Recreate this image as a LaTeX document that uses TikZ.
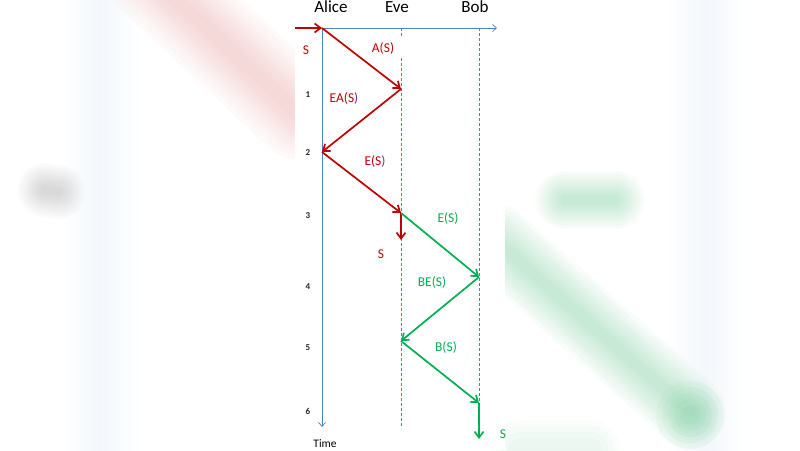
\documentclass[tikz,border=0pt]{standalone}
\usepackage{fontspec}
\setmainfont{Carlito}
\usetikzlibrary{arrows.meta}
\definecolor{myred}{RGB}{192,0,0}
\definecolor{mygreen}{RGB}{0,176,80}
\definecolor{mypurple}{RGB}{112,48,160}
\definecolor{axisblue}{RGB}{79,129,189}
\definecolor{blurpink}{RGB}{235,160,160}
\definecolor{blurgreen}{RGB}{110,205,150}
\definecolor{blurgray}{RGB}{160,160,160}
\definecolor{blurblue}{RGB}{243,247,251}
\begin{document}
\begin{tikzpicture}[x=1pt,y=-1pt,
  msgred/.style={draw=myred, line width=1.7pt, -{Straight Barb[length=6pt,width=9pt]}},
  msggreen/.style={draw=mygreen, line width=1.7pt, -{Straight Barb[length=6pt,width=9pt]}},
  axis/.style={draw=axisblue, line width=0.7pt, -{Straight Barb[length=4pt,width=7pt]}},
  lifeline/.style={draw=axisblue, line width=0.8pt, dash pattern=on 3pt off 2pt},
  head/.style={font=\fontsize{17}{19}\selectfont, text=black, inner sep=0pt},
  lbl/.style={font=\fontsize{13.5}{15}\selectfont, inner sep=0pt},
  tick/.style={font=\bfseries\fontsize{9}{11}\selectfont, text=black!85, inner sep=0pt},
  blur/.style={line cap=round, opacity=0.045}]
\useasboundingbox (0,0) rectangle (800,450);
% blurred background
\fill[white] (0,0) rectangle (800,450);
\shade[left color=white, right color=blurblue] (60,0) rectangle (100,450);
\shade[left color=blurblue, right color=white] (100,0) rectangle (140,450);
\shade[left color=white, right color=blurblue] (665,0) rectangle (705,450);
\shade[left color=blurblue, right color=white] (705,0) rectangle (745,450);
\foreach \w in {90,80,70,62,54,46,38,30,22,14} {
  \draw[blur, blurpink] [line width=\w pt] (150,-25) -- (300,115);
  \draw[blur, blurgreen] [line width=0.8*\w pt] (495,240) -- (690,412);
  \draw[blur, blurgreen] [line width=0.65*\w pt] (565,200) -- (615,200);
  \draw[blur, blurgray] [line width=0.6*\w pt] (45,190) -- (58,192);
}
\foreach \w in {60,48,36,24} {
  \draw[line cap=round, opacity=0.03, blurgreen] [line width=\w pt] (520,450) -- (590,450);
}
\foreach \r in {34,28,22,16,10} {
  \fill[blurgreen, opacity=0.07] (690,415) circle (\r pt);
}
\fill[white] (295,0) rectangle (505,450);
% headers
\node[head] (alice) at (331,7) {Alice};
\node[head] (eve) at (397,7) {Eve};
\node[head] (bob) at (475,7) {Bob};
% event points
\coordinate (in) at (295,28);
\coordinate (a0) at (322,28);
\coordinate (e1) at (401,89);
\coordinate (a2) at (322,152);
\coordinate (e3) at (401,213);
\coordinate (eS) at (401,240);
\coordinate (b4) at (479,277);
\coordinate (e5) at (401,341);
\coordinate (b6) at (479,403);
\coordinate (bS) at (479,439);
\coordinate (tEnd) at (322,427);
\coordinate (xEnd) at (497,28);
\coordinate (eveTop) at (401,28);
\coordinate (eveA) at (401,36);
\coordinate (eveB) at (401,58);
\coordinate (eveEnd) at (401,428);
\coordinate (bobTop) at (479,28);
% axes and lifelines
\draw[axis] (a0) -- (tEnd);
\draw[axis] (a0) -- (xEnd);
\draw[lifeline] (eveTop) -- (eveA);
\draw[lifeline] (eveB) -- (eveEnd);
\draw[lifeline] (bobTop) -- (b6);
% ticks
\node[tick] (t1) at (308,95) {1};
\node[tick] (t2) at (308,153) {2};
\node[tick] (t3) at (308,216) {3};
\node[tick] (t4) at (308,287) {4};
\node[tick] (t5) at (308,348) {5};
\node[tick] (t6) at (308,411) {6};
\node[font=\fontsize{11.5}{13}\selectfont, inner sep=0pt] (time) at (325,444) {Time};
% red messages
\draw[msgred] (in) -- (a0);
\draw[msgred] (a0) -- (e1);
\draw[msgred] (e1) -- (a2);
\draw[msgred] (a2) -- (e3);
\draw[msgred] (e3) -- (eS);
\node[lbl, text=myred] (s0) at (306,50) {S};
\node[lbl, text=myred] (l1) at (383,48) {A(S)};
\node[lbl, text=myred] (l2) at (344,98) {EA(S\textcolor{mypurple}{)}};
\node[lbl, text=myred] (l3) at (375,161) {E(S\textcolor{mypurple}{)}};
\node[lbl, text=myred] (s1) at (381,254) {S};
% green messages
\draw[msggreen] (e3) -- (b4);
\draw[msggreen] (b4) -- (e5);
\draw[msggreen] (e5) -- (b6);
\draw[msggreen] (b6) -- (bS);
\node[lbl, text=mygreen] (l4) at (448,218) {E(S)};
\node[lbl, text=mygreen] (l5) at (432,282) {BE(S)};
\node[lbl, text=mygreen] (l6) at (446,347) {B(S)};
\node[lbl, text=mygreen] (s2) at (503,434) {S};
\end{tikzpicture}
\end{document}
